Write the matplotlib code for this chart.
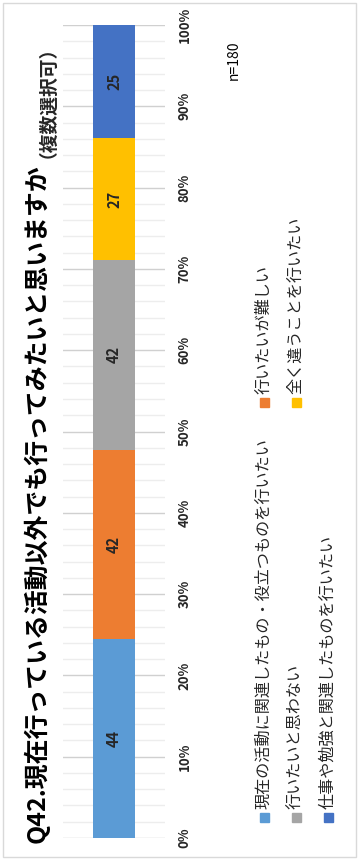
import numpy as np
import matplotlib
matplotlib.use("Agg")
import matplotlib.pyplot as plt
from matplotlib.patches import Rectangle

plt.rcParams['font.family'] = ['Noto Sans CJK JP', 'DejaVu Sans']

categories = ['現在の活動に関連したもの・役立つものを行いたい', '行いたいが難しい',
              '行いたいと思わない', '全く違うことを行いたい',
              '仕事や勉強と関連したものを行いたい']
counts = [44, 42, 42, 27, 25]
colors = ['#5B9BD5', '#ED7D31', '#A5A5A5', '#FFC000', '#4472C4']
tick_labels = ['0%', '10%', '20%', '30%', '40%', '50%', '60%', '70%', '80%', '90%', '100%']
title = 'Q42.現在行っている活動以外でも行ってみたいと思いますか'
subtitle = '（複数選択可）'
n_label = 'n=180'

W, H = 359, 861
fig = plt.figure(figsize=(W / 100, H / 100), dpi=100)

def fx(px):
    return px / W

def fy(py):
    return 1 - py / H

# outer frame
fig.patches.append(Rectangle((fx(3), fy(857)), fx(353), 854 / H, transform=fig.transFigure,
                             fill=False, edgecolor='#D9D9D9', lw=1))

ax = fig.add_axes([fx(63), fy(838), fx(102), 813 / H])
ax.set_xlim(0, 1)
ax.set_ylim(0, 1)
for s in ax.spines.values():
    s.set_visible(False)

total = sum(counts)
fracs = np.array(counts) / total
bottoms = np.concatenate([[0], np.cumsum(fracs)[:-1]])
ax.bar(0.5, fracs, width=0.41, bottom=bottoms, color=colors, zorder=3)
for b, f, c in zip(bottoms, fracs, counts):
    ax.text(0.5, b + f / 2, str(c), rotation=90, ha='center', va='center',
            fontsize=10.5, fontweight='bold', color='#262626', zorder=4)

ax.set_yticks(np.linspace(0, 1, 11))
ax.set_yticks(np.linspace(0, 1, 51), minor=True)
ax.set_yticklabels(tick_labels)
ax.set_xticks([])
ax.yaxis.tick_right()
ax.tick_params(axis='y', which='both', length=0)
ax.tick_params(axis='y', which='major', pad=9)
for lab in ax.get_yticklabels():
    lab.set_rotation(90)
    lab.set_va('center')
    lab.set_fontsize(9.5)
    lab.set_fontweight('bold')
    lab.set_color('#262626')
ax.grid(axis='y', which='major', color='#D0D0D0', lw=1, zorder=0)
ax.grid(axis='y', which='minor', color='#EDEDED', lw=1, zorder=0)

# title
fig.text(fx(36), fy(843), title, rotation=90, ha='center', va='bottom',
         fontsize=17.9, fontweight='bold', color='black')
fig.text(fx(38), fy(158), subtitle, rotation=90, ha='center', va='bottom',
         fontsize=13.5, fontweight='bold', color='#262626')

fig.text(fx(234), fy(60), n_label, rotation=90, ha='center', va='center',
         fontsize=10, color='black')

# legend
leg_pos = [(264, 817), (264, 402), (296, 817), (296, 402), (328, 817)]
for (lx, ly), name, col in zip(leg_pos, categories, colors):
    fig.patches.append(Rectangle((fx(lx - 4.5), fy(ly + 4.5)), fx(9), 9 / H,
                                 transform=fig.transFigure, color=col))
    fig.text(fx(lx), fy(ly - 8), name, rotation=90, ha='center', va='bottom',
             fontsize=11.6, color='#262626')

fig.savefig('out.png', dpi=100)
